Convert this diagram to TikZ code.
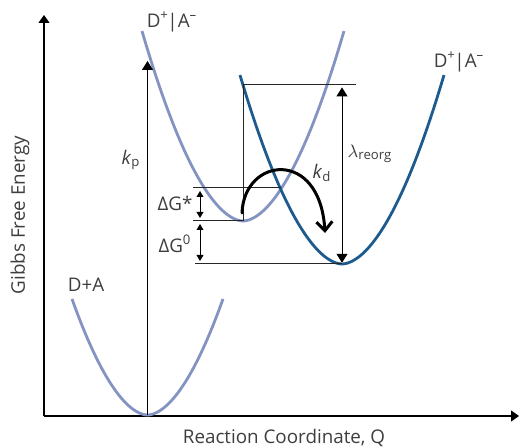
\documentclass[tikz,border=0pt]{standalone}
\usepackage{fontspec}
\setmainfont{Open Sans}
\usetikzlibrary{arrows.meta, positioning}

\definecolor{reactblue}{HTML}{8494C2}
\definecolor{prodblue}{HTML}{1D5A8E}
\definecolor{labelgrey}{HTML}{3E3E3E}

\begin{document}
\begin{tikzpicture}[
    x=0.5pt, y=-0.5pt,
    axis/.style={line width=0.65pt, -{Triangle[length=4pt,width=5.5pt]}},
    guide/.style={line width=0.5pt, black!85},
    bigarr/.style={line width=0.5pt, {Triangle[length=4.5pt,width=5.5pt]}-{Triangle[length=4.5pt,width=5.5pt]}, shorten <=1.2pt, shorten >=0.6pt},
    smallarr/.style={line width=0.5pt, {Triangle[length=3pt,width=3.4pt]}-{Triangle[length=3pt,width=3.4pt]}, shorten <=1.5pt, shorten >=1.5pt},
    lightcurve/.style={reactblue, line width=1.4pt},
    darkcurve/.style={prodblue, line width=1.4pt},
    lbl/.style={text=labelgrey, font=\fontsize{9.4}{11}\selectfont, inner sep=0pt}
]
    \useasboundingbox (0,0) rectangle (519,448);

    % Axes
    \coordinate (origin) at (44,416);
    \coordinate (ytop) at (44,15);
    \coordinate (xend) at (519,416);
    \draw[axis] (origin) -- (ytop);
    \draw[axis] (origin) -- (xend);
    \node[lbl, rotate=90] (ylab) at (20,215) {Gibbs Free Energy};
    \node[lbl] (xlab) at (284,438) {Reaction Coordinate, Q};

    % Minima of the three curves
    \coordinate (gsMin) at (147.5,415);
    \coordinate (ctMin) at (243,221);
    \coordinate (csMin) at (342,264);

    % Ground state D+A
    \draw[lightcurve] plot[domain=-75.5:75.5, samples=81, variable=\t]
        (147.5+\t, {415-0.04433*(abs(\t)+0.01)^1.82});
    \node[lbl] (gsLab) at (86,285) {D+A};

    % Charge-transfer state
    \draw[lightcurve] plot[domain=-101:101, samples=101, variable=\t]
        (243+\t, {221-0.04273*(abs(\t)+0.01)^1.82});
    \node[lbl] (ctLab) at (172,22) {D\textsuperscript{+}\kern-0.8pt|A\textsuperscript{–}};

    % Charge-separated state
    \draw[darkcurve] plot[domain=-102:102, samples=101, variable=\t]
        (342+\t, {264-0.04175*(abs(\t)+0.01)^1.82});
    \node[lbl] (csLab) at (459,62) {D\textsuperscript{+}\kern-0.8pt|A\textsuperscript{–}};

    % Guide lines
    \coordinate (topL) at (243,85);
    \coordinate (topR) at (356,85);
    \coordinate (lamTop) at (342,85);
    \coordinate (cross) at (281,188);
    \coordinate (starL) at (193,188);
    \coordinate (ctL) at (193,221);
    \coordinate (csL) at (195,264);
    \draw[guide] (ctMin) -- (topL) -- (topR);
    \draw[guide] (starL) -- (cross);
    \draw[guide] (ctL) -- (ctMin);
    \draw[guide] (csL) -- (csMin);

    % Photoexcitation k_p
    \coordinate (kpTop) at (147.5,61);
    \draw[line width=0.5pt, -{Triangle[length=4.5pt,width=5.5pt]}] (gsMin) -- (kpTop);
    \node[lbl] (kpLab) at (131,160) {\textit{k}\textsubscript{p}};

    % Energy gaps
    \coordinate (starTop) at (200,188);
    \coordinate (starBot) at (200,221);
    \coordinate (zeroBot) at (200,264);
    \draw[smallarr] (starTop) -- (starBot);
    \draw[smallarr] (starBot) -- (zeroBot);
    \node[lbl] (starLab) at (175,203) {ΔG*};
    \node[lbl] (zeroLab) at (175,244) {ΔG\textsuperscript{0}};

    % Reorganisation energy
    \draw[bigarr] (lamTop) -- (csMin);
    \node[lbl] (lamLab) at (370,154) {$\lambda$\textsubscript{reorg}};

    % Decay k_d
    \coordinate (kdStart) at (242,213);
    \coordinate (kdEnd) at (325,233);
    \draw[line width=1.5pt, line cap=round, -{Straight Barb[length=4.5pt,width=8pt]}]
        (kdStart) .. controls (244,157) and (320,148) .. (kdEnd);
    \node[lbl] (kdLab) at (322,173) {\textit{k}\textsubscript{d}};
\end{tikzpicture}
\end{document}
